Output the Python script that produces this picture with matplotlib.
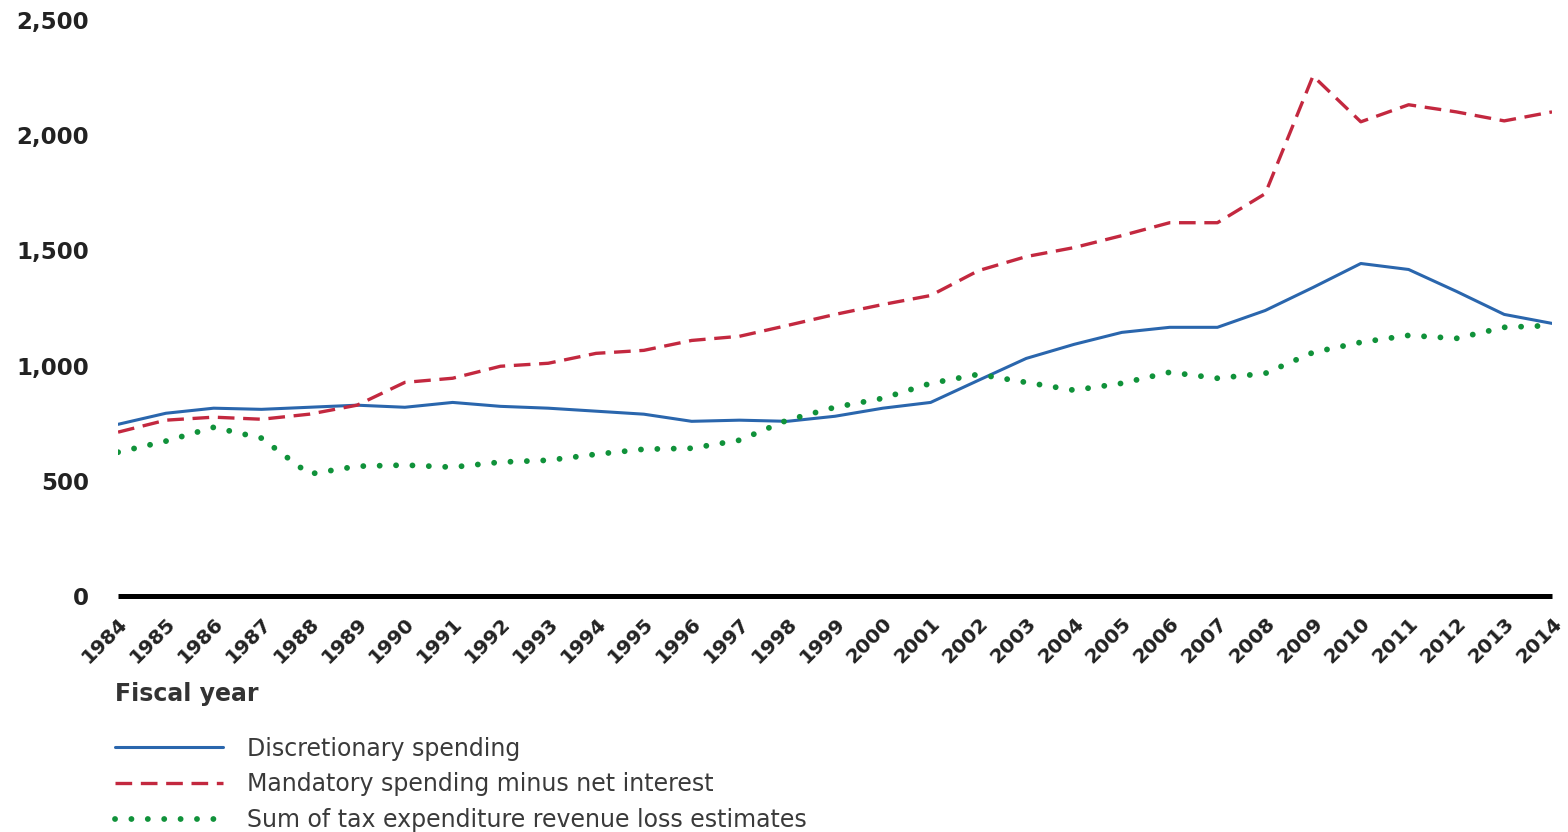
import matplotlib
matplotlib.use("Agg")
import matplotlib.pyplot as plt
import numpy as np

plt.rcParams['font.family'] = ['DejaVu Sans']

years = list(range(1984, 2015))

# billions of dollars
discretionary = [745, 793, 815, 810, 819, 828, 819, 840, 823, 815, 802, 789, 758, 763, 758,
                 780, 815, 840, 936, 1031, 1092, 1144, 1166, 1166, 1239, 1339, 1443, 1417,
                 1322, 1222, 1183]
mandatory = [711, 763, 776, 767, 789, 828, 927, 945, 997, 1010, 1053, 1066, 1109, 1127, 1174,
             1222, 1265, 1304, 1412, 1473, 1512, 1564, 1620, 1620, 1746, 2257, 2058, 2132,
             2101, 2062, 2101]
tax_exp = [624, 672, 732, 685, 529, 563, 568, 559, 581, 589, 615, 637, 641, 676, 763,
           819, 858, 923, 962, 927, 893, 923, 971, 945, 966, 1057, 1101, 1131, 1118,
           1166, 1174]

labels = ["Discretionary spending",
          "Mandatory spending minus net interest",
          "Sum of tax expenditure revenue loss estimates"]
yticks = [0, 500, 1000, 1500, 2000, 2500]

fig = plt.figure(figsize=(15.68, 8.32), dpi=100)
ax = fig.add_axes([0.0753, 0.2837, 0.9145, 0.6923])

l1, = ax.plot(years, discretionary, color='#2a66ad', lw=2.2, solid_capstyle='round')
l2, = ax.plot(years, mandatory, color='#c3283f', lw=2.4, linestyle=(0, (5, 2.6)))
l3, = ax.plot(years, tax_exp, color='#10923a', lw=4.2, linestyle=(0, (0.01, 2.8)),
              dash_capstyle='round')

ax.set_xlim(1984, 2014)
ax.set_ylim(0, 2500)
ax.set_yticks(yticks)
ax.set_yticklabels([f"{v:,}" for v in yticks], fontsize=16.5, fontweight='bold', color='#222222')
ax.set_xticks(years)
ax.set_xticklabels([str(y) for y in years], rotation=45, ha='right', va='top',
                   rotation_mode='anchor', fontsize=14.5, fontweight='bold', color='#222222')
ax.tick_params(axis='y', length=0, pad=21)
ax.tick_params(axis='x', length=0, pad=13)

for s in ['left', 'right', 'top']:
    ax.spines[s].set_visible(False)
ax.spines['bottom'].set_linewidth(3.6)
ax.spines['bottom'].set_color('black')
ax.spines['bottom'].set_capstyle('butt')

fig.text(0.0733, 0.166, "Fiscal year", fontsize=17, fontweight='bold', color='#333333',
         va='center', ha='left')

fig.legend([l1, l2, l3], labels, loc='upper left', bbox_to_anchor=(0.067, 0.126),
           frameon=False, fontsize=17, handlelength=4.6, handletextpad=1.0,
           labelspacing=0.5, labelcolor='#3a3a3a', borderaxespad=0)

fig.savefig("out.png", dpi=100)
